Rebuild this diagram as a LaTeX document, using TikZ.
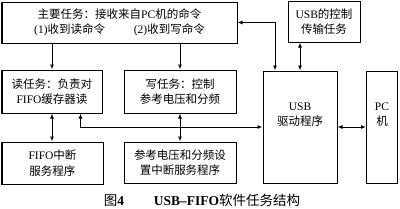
\documentclass[tikz,border=0pt]{standalone}
\usepackage{fontspec}
\setmainfont{Liberation Serif}
\newfontfamily\cjk{Noto Sans CJK SC}
\usetikzlibrary{arrows.meta}
\newcommand\latn[1]{{\rmfamily #1}}
\tikzset{taskbox/.style={draw,line width=1pt,inner sep=0pt,align=center,
    font=\cjk\fontsize{11.5}{15.5}\selectfont},
  link/.style={line width=1pt,-{Latex[length=5pt,width=4pt]}},
  dlink/.style={line width=1pt,{Latex[length=5pt,width=4pt]}-{Latex[length=5pt,width=4pt]}}}

\begin{document}
\begin{tikzpicture}[x=1pt,y=-1pt]
    \useasboundingbox (0,0) rectangle (400,209);
    \node[taskbox,minimum width=235pt,minimum height=41pt] (mainjob) at (119.5,22.5)
      {主要任务：接收来自\latn{PC}机的命令\\\latn{(1)}收到读命令\hspace{2.5em}\latn{(2)}收到写命令};
    \node[taskbox,minimum width=72pt,minimum height=41pt] (ctrljob) at (324,21.5)
      {\latn{USB}的控制\\传输任务};
    \node[taskbox,minimum width=100pt,minimum height=43pt] (readjob) at (52,91.5)
      {读任务：负责对\\\latn{FIFO}缓存器读};
    \node[taskbox,minimum width=112pt,minimum height=43pt] (writejob) at (180,91.5)
      {写任务：控制\\参考电压和分频};
    \node[taskbox,minimum width=101pt,minimum height=42pt] (fifoisr) at (52.5,163)
      {\latn{FIFO}中断\\服务程序};
    \node[taskbox,minimum width=112pt,minimum height=41pt] (refisr) at (180,162.5)
      {参考电压和分频设\\置中断服务程序};
    \node[taskbox,minimum width=74pt,minimum height=112pt] (usbdrv) at (300,127)
      {\latn{USB}\\驱动程序\\[10pt]};
    \node[taskbox,minimum width=31pt,minimum height=112pt] (pcbox) at (382,127)
      {\latn{PC}\\机\\[10pt]};
    \node[font=\cjk\fontsize{13.5}{15}\selectfont] (caption) at (202,200)
      {图\latn{\bfseries 4}\hspace{2.2em}\latn{\bfseries USB–FIFO}软件任务结构};
    \draw[link] (readjob.north |- mainjob.south) -- (readjob.north);
    \draw[link] (writejob.north |- mainjob.south) -- (writejob.north);
    \draw[dlink] (readjob.south) -- (readjob.south |- fifoisr.north);
    \draw[dlink] (writejob.south) -- (refisr.north);
    \draw[dlink] ([xshift=-22pt]readjob.south east) |- (usbdrv.west);
    \draw[dlink] (usbdrv.east) -- (pcbox.west);
    \draw[dlink] (usbdrv.north) -- (usbdrv.north |- ctrljob.south);
    \draw[dlink] (mainjob.east) -| ([xshift=-25pt]usbdrv.north);
\end{tikzpicture}
\end{document}
